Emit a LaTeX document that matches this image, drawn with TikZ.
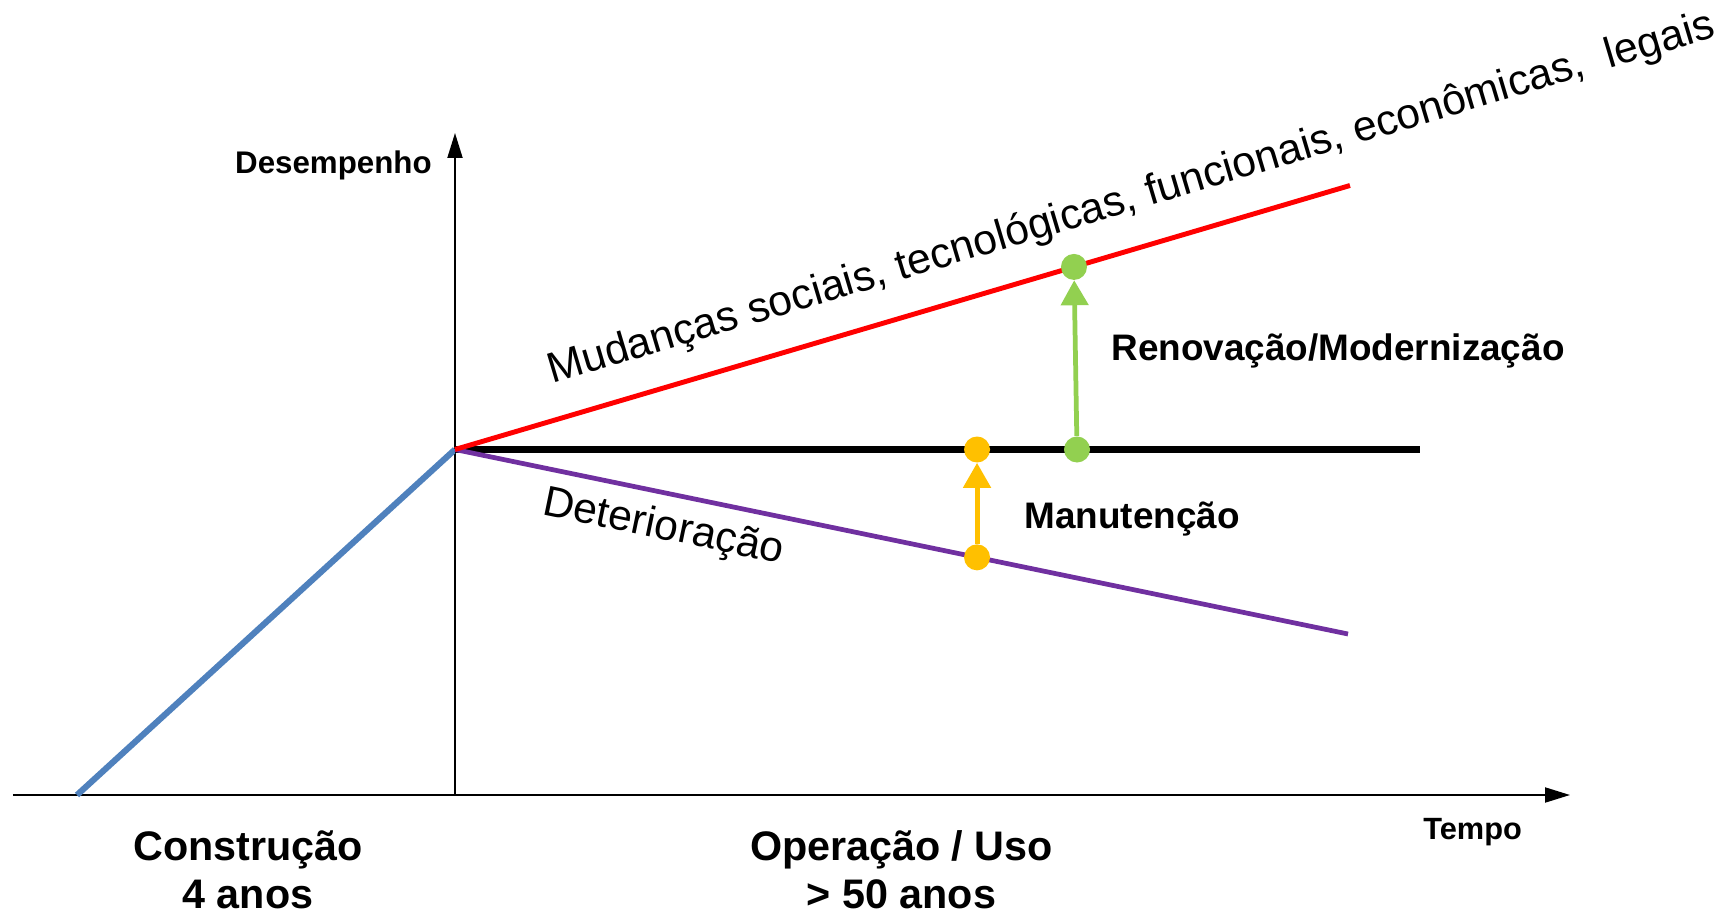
\documentclass[tikz,border=0pt]{standalone}
\usepackage{fontspec}
\setmainfont{Liberation Sans}
\usetikzlibrary{arrows.meta,calc}
\definecolor{azul}{HTML}{4F81BD}
\definecolor{roxo}{HTML}{7030A0}
\definecolor{amarelo}{HTML}{FFC000}
\definecolor{verde}{HTML}{92D050}
\tikzset{
	eixo/.style={line width=1.1pt,-{Triangle[length=0.5cm,width=0.3cm]}},
	ponto/.style={circle,inner sep=0pt,minimum size=0.52cm},
	seta/.style={line width=2.8pt,-{Triangle[length=0.5cm,width=0.54cm]}},
	rotulo/.style={inner sep=0pt,font=\bfseries\fontsize{21}{25}\selectfont},
	fase/.style={inner sep=0pt,anchor=base,font=\bfseries\fontsize{23.5}{27}\selectfont},
	curva/.style={inner sep=0pt,anchor=base west,font=\fontsize{24.3}{28}\selectfont},
}
\begin{document}
\begin{tikzpicture}
	\useasboundingbox (-9.1,-2.36) rectangle (25.34,15.9);
	% pontos principais
	\coordinate (O) at (0,0);
	\coordinate (P) at (0,6.91);
	\coordinate (ini) at (-7.56,0);
	\coordinate (R) at (17.9,12.19);
	\coordinate (D) at (17.86,3.22);
	\coordinate (H) at (19.3,6.91);
	\coordinate (xmin) at (-8.84,0);
	\coordinate (xmax) at (22.3,0);
	\coordinate (ymax) at (0,13.24);
	% eixos
	\draw[eixo] (xmin) -- (xmax);
	\draw[eixo] (O) -- (ymax);
	\node[rotulo,anchor=base east,font=\bfseries\fontsize{17.8}{21}\selectfont] (desemp) at (-0.46,12.42) {Desempenho};
	\node[rotulo,anchor=base west,font=\bfseries\fontsize{17.5}{21}\selectfont] (tempo) at (19.36,-0.88) {Tempo};
	% curvas
	\draw[azul,line width=3.5pt] (ini) -- (P);
	\draw[line width=4pt] (P) -- (H);
	\draw[roxo,line width=2.7pt] (P) -- (D);
	\draw[red,line width=2.8pt] (P) -- (R);
	\node[curva,rotate=16.6] (mudancas) at (1.94,8.22) {Mudanças sociais, tecnológicas, funcionais, econômicas, \ legais};
	\node[curva,rotate=-11.7] (deter) at (1.72,5.62) {Deterioração};
	% manutencao e renovacao
	\node[ponto,fill=amarelo] (mbaixo) at ($(P)!0.5846!(D)$) {};
	\node[ponto,fill=amarelo] (mcima) at (mbaixo |- P) {};
	\node[ponto,fill=verde] (rbaixo) at (12.44,6.91) {};
	\node[ponto,fill=verde] (rcima) at ($(P)!0.6916!(R)$) {};
	\draw[seta,amarelo] (mbaixo) -- (mcima);
	\draw[seta,verde,line width=2.7pt] (rbaixo) -- (rcima);
	\node[rotulo,anchor=base west] (manut) at (11.38,5.34) {Manutenção};
	\node[rotulo,anchor=base west] (renov) at (13.12,8.7) {Renovação/Modernização};
	% fases
	\node[fase] (constr) at (-4.14,-1.3) {Construção};
	\node[fase] (constrano) at (-4.14,-2.27) {4 anos};
	\node[fase] (oper) at (8.93,-1.3) {Operação / Uso};
	\node[fase] (operano) at (8.93,-2.27) {> 50 anos};
\end{tikzpicture}
\end{document}
